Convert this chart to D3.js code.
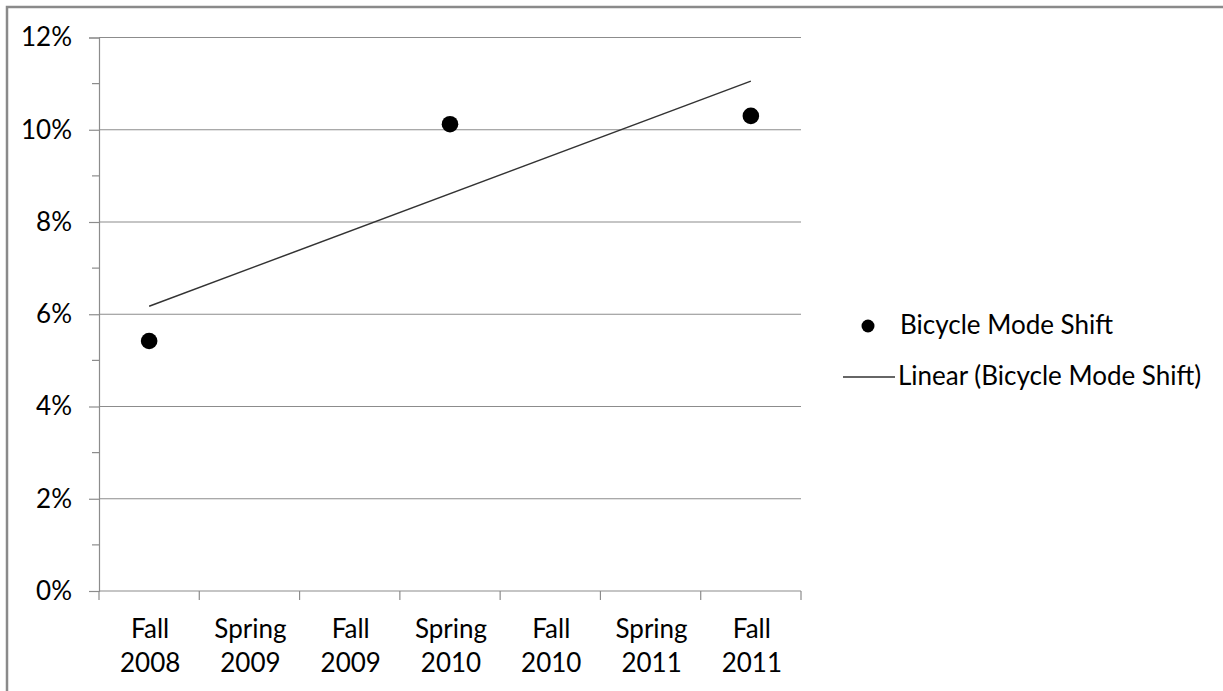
<!DOCTYPE html>
<html>
<head>
<meta charset="utf-8">
<script src="https://cdn.jsdelivr.net/npm/d3@7/dist/d3.min.js"></script>
<style>
  html, body { margin: 0; padding: 0; background: #fff; }
  svg { display: block; }
  text { font-family: Lato, "Noto Sans", sans-serif; fill: #000; }
</style>
</head>
<body>
<svg id="chart" width="1223" height="691"></svg>
<script>
// Survey periods on the category axis
const categories = ["Fall 2008", "Spring 2009", "Fall 2009", "Spring 2010", "Fall 2010", "Spring 2011", "Fall 2011"];
// Share of respondents shifting to bicycle (null = no survey that period)
const modeShift = [0.0542, null, null, 0.1012, null, null, 0.1030];
const yTicks = [0, 0.02, 0.04, 0.06, 0.08, 0.10, 0.12];
const yMinorTicks = [0.01, 0.03, 0.05, 0.07, 0.09, 0.11];
const seriesName = "Bicycle Mode Shift";

const FS = 26;
const svg = d3.select("#chart");
const W = 1223, H = 691;
const plot = { left: 99, right: 801, top: 37.5, bottom: 591 };

// outer chart frame
svg.append("rect")
  .attr("x", 7).attr("y", 7)
  .attr("width", W + 20).attr("height", H + 20)
  .attr("fill", "none").attr("stroke", "#8a8a8a").attr("stroke-width", 2.5);

const x = d3.scaleBand().domain(categories).range([plot.left, plot.right]).padding(0);
const y = d3.scaleLinear().domain([0, 0.12]).range([plot.bottom, plot.top]);

// horizontal gridlines
svg.append("g").selectAll("line").data(yTicks.filter(d => d > 0)).join("line")
  .attr("x1", plot.left).attr("x2", plot.right)
  .attr("y1", d => y(d)).attr("y2", d => y(d))
  .attr("stroke", "#8c8c8c").attr("stroke-width", 1.2);

// y axis
const yAxis = svg.append("g").attr("transform", `translate(${plot.left},0)`)
  .call(d3.axisLeft(y).tickValues(yTicks).tickFormat(d3.format(".0%")).tickSize(10).tickPadding(17));
yAxis.select(".domain").attr("stroke", "#8c8c8c").attr("stroke-width", 1.2);
yAxis.selectAll(".tick line").attr("stroke", "#8c8c8c").attr("stroke-width", 1.2);
yAxis.selectAll(".tick text").attr("font-size", FS).attr("fill", "#000")
  .style("font-family", "Lato, 'Noto Sans', sans-serif");
svg.append("g").selectAll("line").data(yMinorTicks).join("line")
  .attr("x1", plot.left - 7).attr("x2", plot.left)
  .attr("y1", d => y(d)).attr("y2", d => y(d))
  .attr("stroke", "#8c8c8c").attr("stroke-width", 1.2);

// x axis with category boundary ticks
svg.append("line")
  .attr("x1", plot.left).attr("x2", plot.right)
  .attr("y1", plot.bottom).attr("y2", plot.bottom)
  .attr("stroke", "#8c8c8c").attr("stroke-width", 1.2);
const boundaries = categories.map(c => x(c)).concat([x(categories[categories.length - 1]) + x.bandwidth()]);
svg.append("g").selectAll("line").data(boundaries).join("line")
  .attr("x1", d => d).attr("x2", d => d)
  .attr("y1", plot.bottom).attr("y2", plot.bottom + 9)
  .attr("stroke", "#8c8c8c").attr("stroke-width", 1.2);
const xl = svg.append("g").selectAll("text").data(categories).join("text")
  .attr("x", d => x(d) + x.bandwidth() / 2 + 1)
  .attr("y", 638)
  .attr("text-anchor", "middle").attr("font-size", FS);
xl.each(function(d) {
  const parts = d.split(" ");
  const t = d3.select(this);
  t.append("tspan").attr("x", t.attr("x")).attr("dy", 0).text(parts[0]);
  t.append("tspan").attr("x", t.attr("x")).attr("dy", 34).text(parts[1]);
});

// points with values
const pts = categories.map((c, i) => ({ c, i: i + 1, v: modeShift[i] })).filter(d => d.v !== null);

// linear least-squares trendline over period index
const mx = d3.mean(pts, d => d.i), my = d3.mean(pts, d => d.v);
const slope = d3.sum(pts, d => (d.i - mx) * (d.v - my)) / d3.sum(pts, d => (d.i - mx) ** 2);
const icpt = my - slope * mx;
const first = pts[0], last = pts[pts.length - 1];
const cx = d => x(d.c) + x.bandwidth() / 2;
svg.append("line")
  .attr("x1", cx(first)).attr("y1", y(icpt + slope * first.i))
  .attr("x2", cx(last)).attr("y2", y(icpt + slope * last.i))
  .attr("stroke", "#333").attr("stroke-width", 1.5);

svg.append("g").selectAll("circle").data(pts).join("circle")
  .attr("cx", cx).attr("cy", d => y(d.v)).attr("r", 8.3).attr("fill", "#000");

// legend
const lg = svg.append("g");
lg.append("circle").attr("cx", 868).attr("cy", 326).attr("r", 6.5).attr("fill", "#000");
lg.append("text").attr("x", 900).attr("y", 334).attr("font-size", FS).text(seriesName);
lg.append("line").attr("x1", 843).attr("x2", 895).attr("y1", 377).attr("y2", 377)
  .attr("stroke", "#333").attr("stroke-width", 1.5);
lg.append("text").attr("x", 898).attr("y", 385).attr("font-size", FS).text(`Linear (${seriesName})`);
</script>
</body>
</html>
